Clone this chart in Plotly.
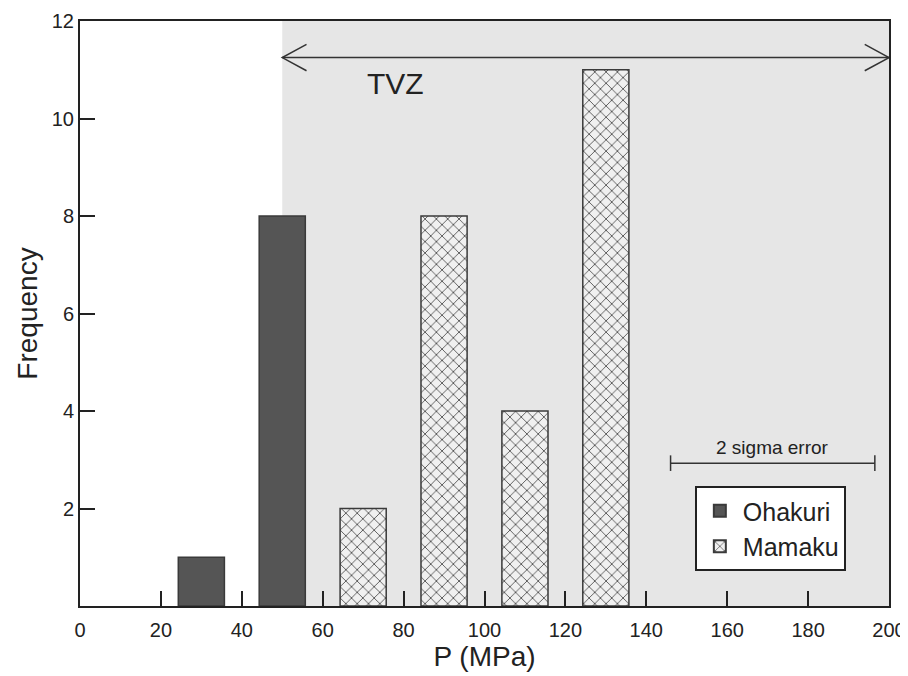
import plotly.graph_objects as go

# ---- data ----
ohakuri_x = [30, 50]
ohakuri_freq = [1, 8]
mamaku_x = [70, 90, 110, 130]
mamaku_freq = [2, 8, 4, 11]
x_ticks = [0, 20, 40, 60, 80, 100, 120, 140, 160, 180, 200]
y_ticks = [2, 4, 6, 8, 10, 12]
tvz_range = [50, 200]
tvz_arrow_y = 11.25
sigma_range = [146, 196.5]
sigma_y = 2.93

bar_w = 11.4
edge = "#3a3a3a"

fig = go.Figure()
fig.add_trace(go.Bar(
    x=ohakuri_x, y=ohakuri_freq, width=bar_w, name="Ohakuri",
    marker=dict(color="#555555", line=dict(color=edge, width=1.5)),
))
fig.add_trace(go.Bar(
    x=mamaku_x, y=mamaku_freq, width=bar_w, name="Mamaku",
    marker=dict(color="#f0f0f0", line=dict(color=edge, width=1.5),
                pattern=dict(shape="x", fgcolor="#4a4a4a", bgcolor="#f0f0f0",
                             size=8, solidity=0.2, fillmode="replace")),
))

shapes = []
# TVZ shaded region
shapes.append(dict(type="rect", xref="x", yref="y", x0=tvz_range[0], x1=tvz_range[1],
                   y0=0, y1=12, fillcolor="#e6e6e6", line=dict(width=0), layer="below"))
# TVZ arrow
lc = "#333333"
shapes.append(dict(type="line", xref="x", yref="y", x0=tvz_range[0], x1=tvz_range[1],
                   y0=tvz_arrow_y, y1=tvz_arrow_y, line=dict(color=lc, width=1.5)))
dx, dy = 6.0, 0.27
for tip, sgn in [(tvz_range[0], 1), (tvz_range[1], -1)]:
    shapes.append(dict(type="path", xref="x", yref="y",
                       path=f"M {tip+sgn*dx},{tvz_arrow_y+dy} L {tip},{tvz_arrow_y} L {tip+sgn*dx},{tvz_arrow_y-dy}",
                       line=dict(color=lc, width=1.5)))
# 2 sigma error bar
shapes.append(dict(type="line", xref="x", yref="y", x0=sigma_range[0], x1=sigma_range[1],
                   y0=sigma_y, y1=sigma_y, line=dict(color=lc, width=1.5)))
for xx in sigma_range:
    shapes.append(dict(type="line", xref="x", yref="y", x0=xx, x1=xx,
                       y0=sigma_y - 0.16, y1=sigma_y + 0.16, line=dict(color=lc, width=1.5)))

fig.update_layout(
    width=900, height=668,
    margin=dict(l=72, r=19, t=13, b=70),
    paper_bgcolor="white", plot_bgcolor="white",
    barmode="overlay",
    shapes=shapes,
    font=dict(family="Liberation Sans, Arial, sans-serif", color="#222222"),
    showlegend=True,
    legend=dict(x=0.76, y=0.205, xanchor="left", yanchor="top",
                bgcolor="white", bordercolor="#222222", borderwidth=2,
                font=dict(size=25), itemsizing="constant", itemwidth=36,
                tracegroupgap=0),
    annotations=[
        dict(x=78, y=10.72, xref="x", yref="y", text="TVZ", showarrow=False,
             font=dict(size=30, color="#222222")),
        dict(x=(sigma_range[0] + sigma_range[1]) / 2, y=sigma_y + 0.32, xref="x", yref="y",
             text="2 sigma error", showarrow=False, font=dict(size=19, color="#222222")),
    ],
    xaxis=dict(range=[0, 200], tickvals=x_ticks, ticks="inside", ticklen=15, tickwidth=2,
               tickcolor="#222222", showline=True, linecolor="#222222", linewidth=2,
               mirror=True, showgrid=False, zeroline=False, ticklabelstandoff=5,
               tickfont=dict(size=20), ticklabeloverflow="allow", automargin=False,
               title=dict(text="P (MPa)", font=dict(size=28), standoff=5)),
    yaxis=dict(range=[0, 12], tickvals=y_ticks, ticks="inside", ticklen=15, tickwidth=2,
               tickcolor="#222222", showline=True, linecolor="#222222", linewidth=2,
               mirror=True, showgrid=False, zeroline=False, automargin=False,
               tickfont=dict(size=20), ticklabeloverflow="allow",
               title=dict(text="Frequency", font=dict(size=28), standoff=6)),
)

fig.write_html("out.html")
